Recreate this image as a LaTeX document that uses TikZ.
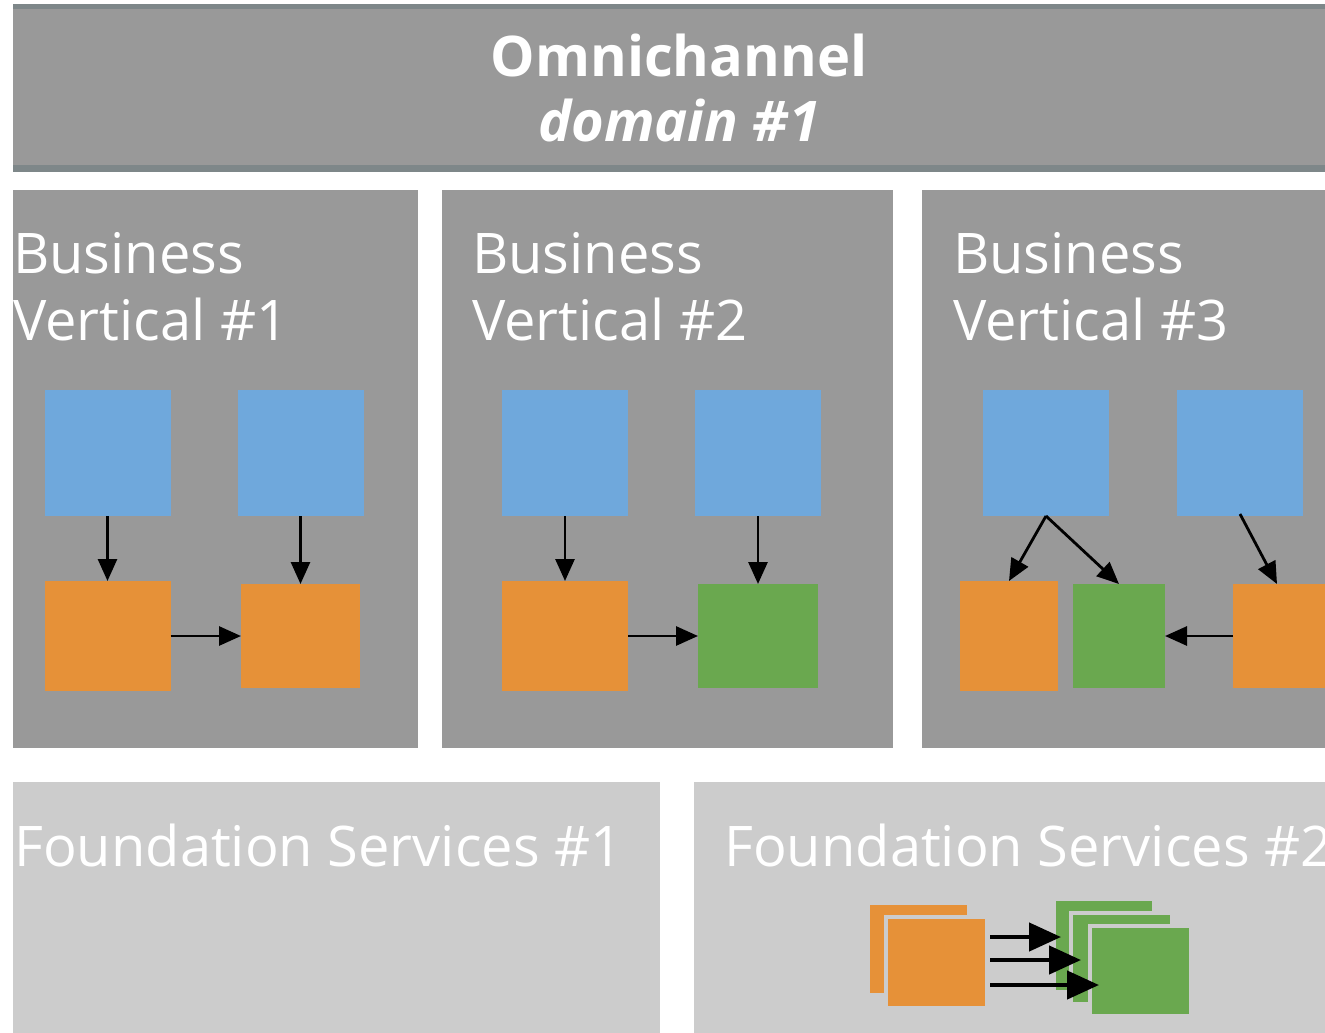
\documentclass[tikz,border=0pt]{standalone}
\usepackage{fontspec}
\setmainfont{Open Sans}
\usetikzlibrary{arrows.meta,calc}
\definecolor{bgrey}{HTML}{999999}
\definecolor{lgrey}{HTML}{CCCCCC}
\definecolor{edge}{HTML}{7E8789}
\definecolor{cblue}{HTML}{6FA8DC}
\definecolor{corange}{HTML}{E69138}
\definecolor{cgreen}{HTML}{6AA84F}
\begin{document}
\begin{tikzpicture}[x=1pt,y=-1pt,
  sq/.style={rectangle,inner sep=0pt,outer sep=0pt},
  blu/.style={sq,fill=cblue},
  org/.style={sq,fill=corange},
  grn/.style={sq,fill=cgreen},
  arr/.style={line width=2.8pt,-{Triangle[length=22pt,width=19pt]}},
  bigarr/.style={line width=4.5pt,-{Triangle[length=32pt,width=28pt]}},
  lbl/.style={anchor=base west,inner sep=0pt,text=white,font=\fontsize{56}{67}\selectfont},
  flbl/.style={anchor=base west,inner sep=0pt,text=white,font=\fontsize{56}{67}\selectfont}]
\clip (0,0) rectangle (1325,1033);
\fill[white] (0,0) rectangle (1325,1033);
% top bar
\fill[edge] (13,4) rectangle (1325,172);
\node[sq,fill=bgrey,minimum width=1312pt,minimum height=156pt,anchor=north west] (top) at (13,9) {};
\node[inner sep=0pt,text=white,font=\fontsize{56}{67}\selectfont\bfseries,anchor=base] (t1) at (679,77) {Omnichannel};
\node[inner sep=0pt,text=white,font=\fontsize{56}{67}\selectfont\bfseries\itshape,anchor=base] (t2) at (679,141) {domain \#1};
% business verticals
\node[sq,fill=bgrey,minimum width=405pt,minimum height=558pt,anchor=north west] (bv1) at (13,190) {};
\node[sq,fill=bgrey,minimum width=451pt,minimum height=558pt,anchor=north west] (bv2) at (442,190) {};
\node[sq,fill=bgrey,minimum width=403pt,minimum height=558pt,anchor=north west] (bv3) at (922,190) {};
\node[lbl] (l1a) at (13,273) {Business};
\node[lbl] (l1b) at (13,340) {Vertical \#1};
\node[lbl] (l2a) at (472,273) {Business};
\node[lbl] (l2b) at (472,340) {Vertical \#2};
\node[lbl] (l3a) at (953,273) {Business};
\node[lbl] (l3b) at (953,340) {Vertical \#3};
% BV1
\node[blu,minimum width=126pt,minimum height=126pt] (b11) at (107.5,453) {};
\node[blu,minimum width=126pt,minimum height=126pt] (b12) at (300.5,453) {};
\node[org,minimum width=126pt,minimum height=110pt] (o11) at (107.5,636) {};
\node[org,minimum width=119pt,minimum height=104pt] (o12) at (300.5,636) {};
\draw[arr] (b11.south) -- (o11.north);
\draw[arr] (b12.south) -- (o12.north);
\draw[arr] (o11.east) -- (o12.west);
% BV2
\node[blu,minimum width=126pt,minimum height=126pt] (b21) at (565,453) {};
\node[blu,minimum width=126pt,minimum height=126pt] (b22) at (758,453) {};
\node[org,minimum width=126pt,minimum height=110pt] (o21) at (565,636) {};
\node[grn,minimum width=120pt,minimum height=104pt] (g21) at (758,636) {};
\draw[arr] (b21.south) -- (o21.north);
\draw[arr] (b22.south) -- (g21.north);
\draw[arr] (o21.east) -- (g21.west);
% BV3
\node[blu,minimum width=126pt,minimum height=126pt] (b31) at (1046,453) {};
\node[blu,minimum width=126pt,minimum height=126pt] (b32) at (1240,453) {};
\node[org,minimum width=98pt,minimum height=110pt] (o31) at (1009,636) {};
\node[grn,minimum width=92pt,minimum height=104pt] (g31) at (1119,636) {};
\node[org,minimum width=120pt,minimum height=104pt] (o32) at (1293,636) {};
\coordinate (o32in) at ($(o32.north west)+(44,0)$);
\draw[arr] (b31.south) -- (o31.north);
\draw[arr] (b31.south) -- (g31.north);
\draw[arr] ($(b32.south)+(0,-2)$) -- (o32in);
\draw[arr] (o32.west) -- (g31.east);
% foundation services
\node[sq,fill=lgrey,minimum width=647pt,minimum height=251pt,anchor=north west] (fs1) at (13,782) {};
\node[sq,fill=lgrey,minimum width=631pt,minimum height=251pt,anchor=north west] (fs2) at (694,782) {};
\node[flbl] (f1) at (14,866) {Foundation Services \#1};
\node[flbl] (f2) at (724,866) {Foundation Services \#2};
% stacks
\node[org,minimum width=97pt,minimum height=88pt,anchor=north west] (ob) at (870,905) {};
\node[org,draw=lgrey,line width=4pt,minimum width=101pt,minimum height=91pt,anchor=north west] (of) at (886,917) {};
\node[grn,minimum width=96pt,minimum height=89pt,anchor=north west] (gb1) at (1056,901) {};
\node[grn,draw=lgrey,line width=4pt,minimum width=101pt,minimum height=91pt,anchor=north west] (gb2) at (1071,913) {};
\node[grn,draw=lgrey,line width=4pt,minimum width=101pt,minimum height=90pt,anchor=north west] (gf) at (1090,926) {};
\coordinate (s1) at (990,937);
\coordinate (s2) at (990,960);
\coordinate (s3) at (990,985);
\coordinate (e1) at (1061,937);
\coordinate (e2) at (1081,960);
\coordinate (e3) at (1099,985);
\draw[bigarr] (s1) -- (e1);
\draw[bigarr] (s2) -- (e2);
\draw[bigarr] (s3) -- (e3);
\end{tikzpicture}
\end{document}
